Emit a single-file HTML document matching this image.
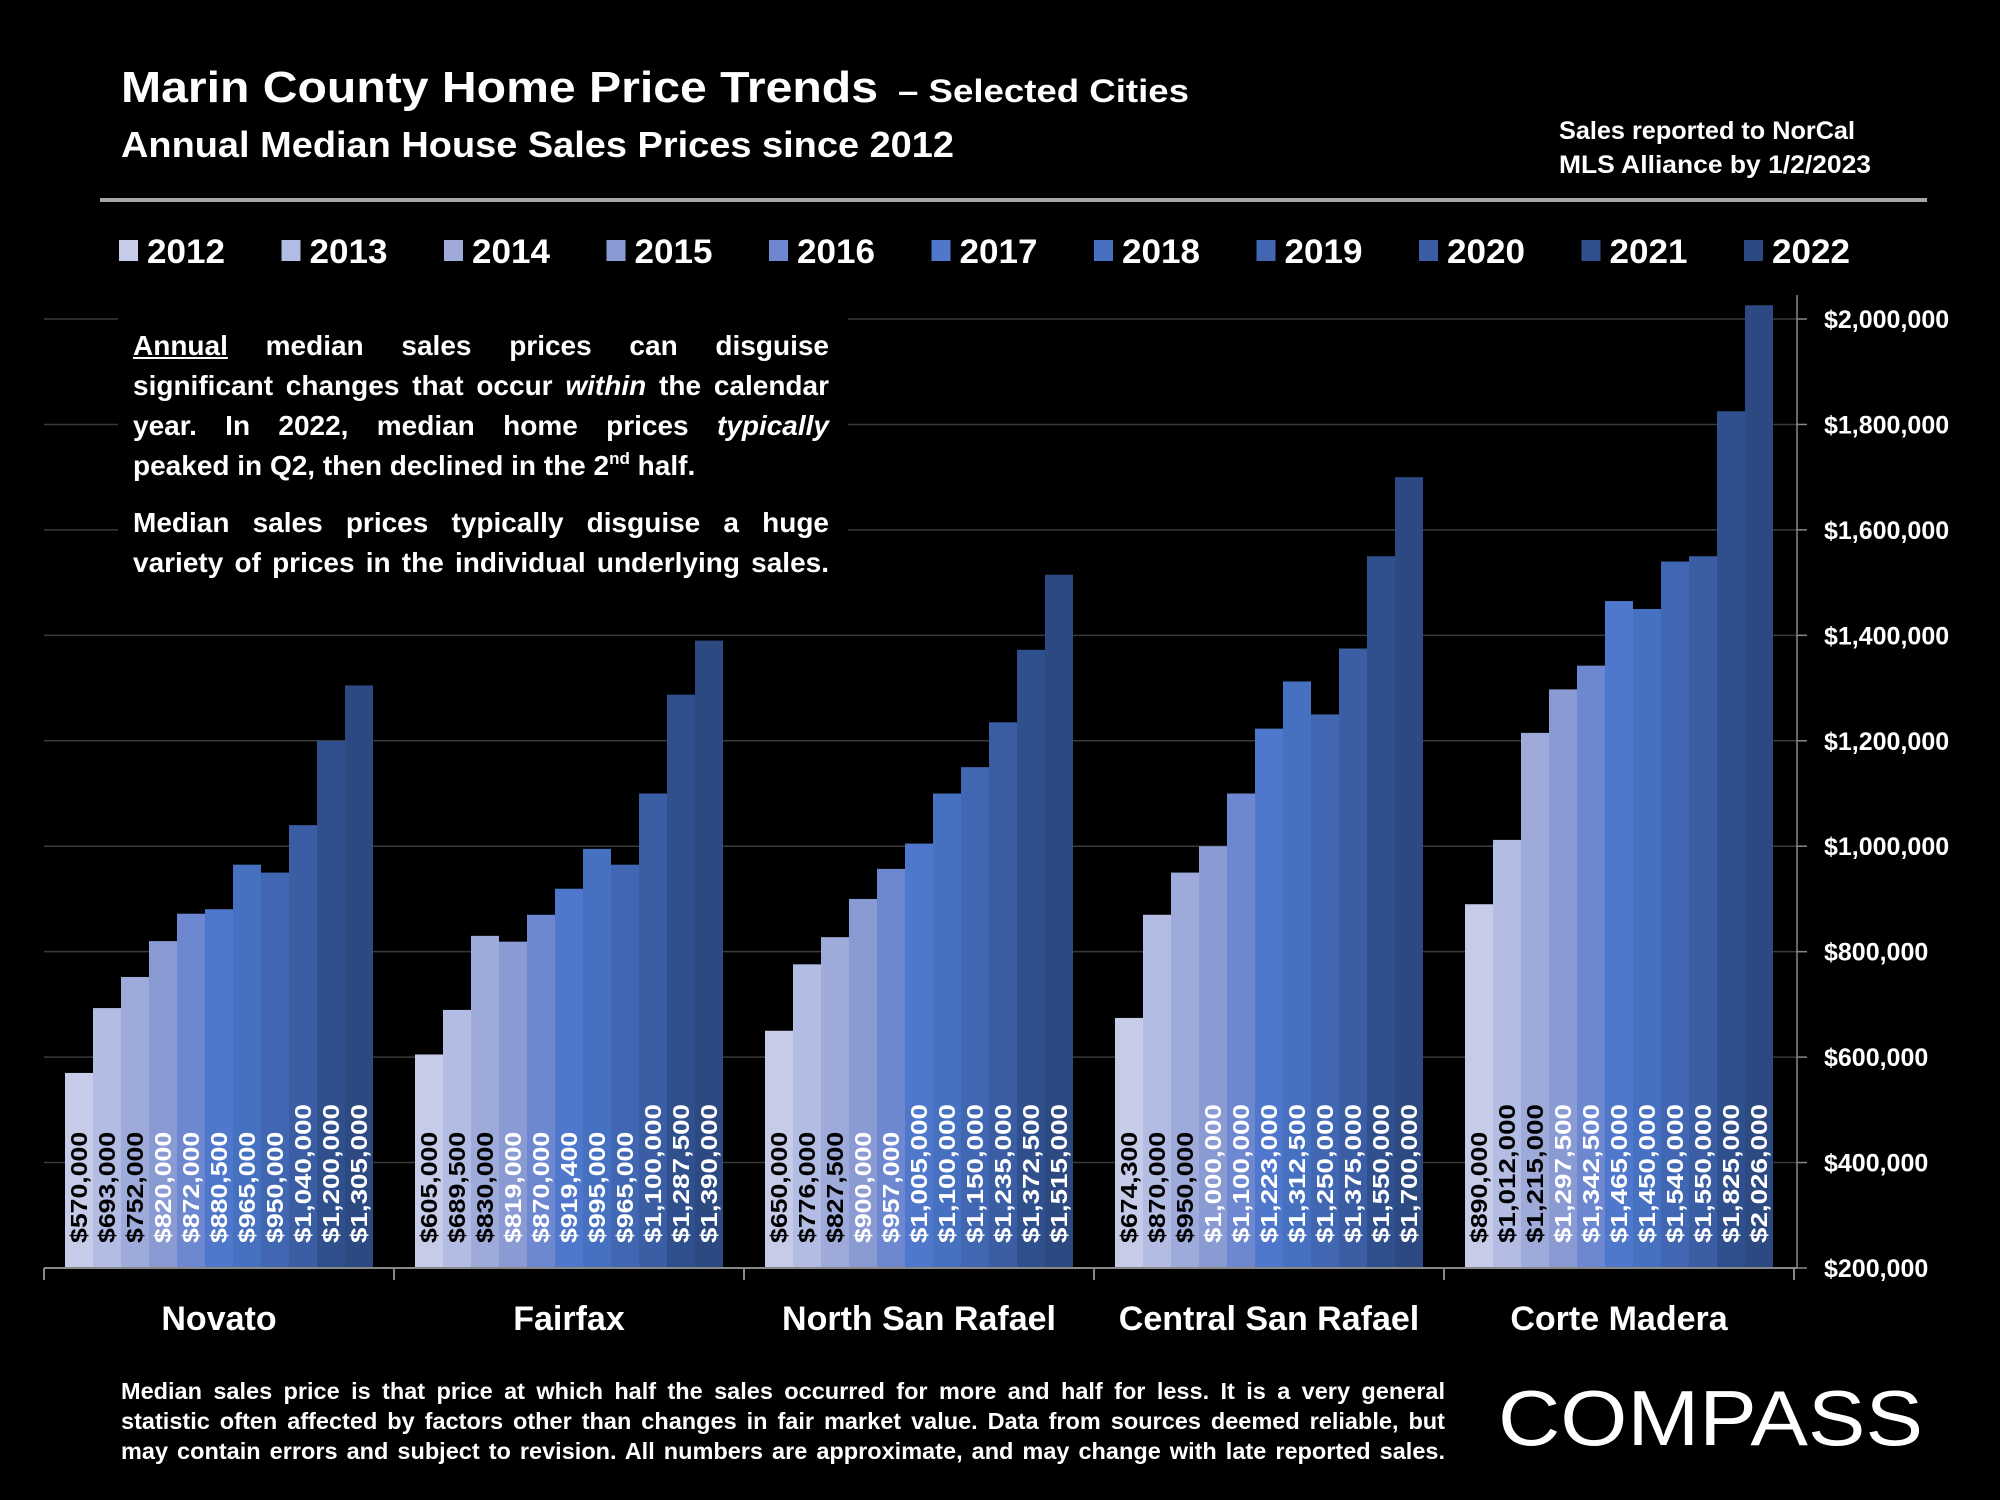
<!DOCTYPE html>
<html><head><meta charset="utf-8">
<style>
html,body{margin:0;padding:0;background:#000;}
#wrap{position:relative;width:2000px;height:1500px;background:#000;overflow:hidden;font-family:"Liberation Sans",sans-serif;color:#fff;font-weight:bold;}
.jl{position:absolute;text-align:justify;text-align-last:justify;white-space:nowrap;}
.nl{position:absolute;white-space:nowrap;}
sup{line-height:0;font-size:17px;vertical-align:0;position:relative;top:-11px;}
</style></head>
<body>
<div id="wrap">
<svg id="chart" width="2000" height="1500" style="position:absolute;left:0;top:0">
  <text x="121" y="102" font-size="44" fill="#fff" font-weight="bold" textLength="757" lengthAdjust="spacingAndGlyphs">Marin County Home Price Trends</text>
  <text x="898" y="102" font-size="32" fill="#fff" font-weight="bold" textLength="291" lengthAdjust="spacingAndGlyphs">– Selected Cities</text>
  <text x="121" y="157" font-size="36" fill="#fff" font-weight="bold" textLength="833" lengthAdjust="spacingAndGlyphs">Annual Median House Sales Prices since 2012</text>
  <text x="1559" y="139" font-size="25" fill="#fff" font-weight="bold" textLength="296" lengthAdjust="spacingAndGlyphs">Sales reported to NorCal</text>
  <text x="1559" y="173" font-size="25" fill="#fff" font-weight="bold" textLength="312" lengthAdjust="spacingAndGlyphs">MLS Alliance by 1/2/2023</text>
  <rect x="100" y="198" width="1827" height="4" fill="#a6a6a6"/>
  <g id="grid"></g>
  <g id="bars"></g>
  <g id="axes"></g>
  <g id="legend"></g>
  <text x="1498" y="1445" font-size="78" fill="#fff" font-weight="normal" textLength="425" lengthAdjust="spacingAndGlyphs">COMPASS</text>
</svg>
<div style="position:absolute;left:118px;top:318px;width:730px;height:282px;background:#000">
  <div style="font-size:28px;line-height:40px;">
    <div class="jl" style="left:15px;top:8px;width:696px"><u>Annual</u> median sales prices can disguise</div>
    <div class="jl" style="left:15px;top:48px;width:696px">significant changes that occur <i>within</i> the calendar</div>
    <div class="jl" style="left:15px;top:88px;width:696px">year. In 2022, median home prices <i>typically</i></div>
    <div class="nl" style="left:15px;top:128px">peaked in Q2, then declined in the 2<sup>nd</sup> half.</div>
    <div class="jl" style="left:15px;top:185px;width:696px">Median sales prices typically disguise a huge</div>
    <div class="jl" style="left:15px;top:225px;width:696px">variety of prices in the individual underlying sales.</div>
  </div>
</div>
<div style="font-size:23.5px;line-height:30px;">
  <div class="jl" style="left:121px;top:1376px;width:1324px">Median sales price is that price at which half the sales occurred for more and half for less. It is a very general</div>
  <div class="jl" style="left:121px;top:1406px;width:1324px">statistic often affected by factors other than changes in fair market value. Data from sources deemed reliable, but</div>
  <div class="jl" style="left:121px;top:1436px;width:1324px">may contain errors and subject to revision. All numbers are approximate, and may change with late reported sales.</div>
</div>
</div>
<script>
const cities = ["Novato","Fairfax","North San Rafael","Central San Rafael","Corte Madera"];
const years = ["2012","2013","2014","2015","2016","2017","2018","2019","2020","2021","2022"];
const novato = [570000,693000,752000,820000,872000,880500,965000,950000,1040000,1200000,1305000];
const fairfax = [605000,689500,830000,819000,870000,919400,995000,965000,1100000,1287500,1390000];
const northSanRafael = [650000,776000,827500,900000,957000,1005000,1100000,1150000,1235000,1372500,1515000];
const centralSanRafael = [674300,870000,950000,1000000,1100000,1223000,1312500,1250000,1375000,1550000,1700000];
const corteMadera = [890000,1012000,1215000,1297500,1342500,1465000,1450000,1540000,1550000,1825000,2026000];
const yTicks = [200000,400000,600000,800000,1000000,1200000,1400000,1600000,1800000,2000000];
const colors = ["#c6cbe7","#b3bce3","#9eabda","#8a9bd4","#6d88d1","#4f77cb","#4670c0","#4167b3","#3a5da3","#30508d","#2c4982"];
const series = [novato,fairfax,northSanRafael,centralSanRafael,corteMadera];

const NS="http://www.w3.org/2000/svg";
const x0=44, groupW=350, barW=28, pad=21, yBase=1268;
function y(v){ return yBase - (v-200000)*(1268-319)/1800000; }
function bx(g,i){ return x0+g*groupW+pad+i*barW; }
function mk(tag,attrs,parent){ const e=document.createElementNS(NS,tag); for(const k in attrs) e.setAttribute(k,attrs[k]); parent.appendChild(e); return e; }
function fmt(v){ return "$"+v.toLocaleString("en-US"); }

const grid=document.getElementById("grid"), bars=document.getElementById("bars"), axes=document.getElementById("axes"), legend=document.getElementById("legend");
yTicks.forEach(t=>{
  if(t>200000){
    const l=mk("line",{x1:x0,x2:1797,y1:y(t),y2:y(t),stroke:"#3a3a3a","stroke-width":1.5},grid);
    
    
  }
  const tk=mk("line",{x1:1797,x2:1807,y1:y(t),y2:y(t),stroke:"#888","stroke-width":1.5},axes);
  
  
  const tx=mk("text",{x:1824,y:y(t)+9,fill:"#fff","font-size":25,"font-weight":"bold"},axes);
  tx.textContent=fmt(t);
  
  
});
const ya=mk("line",{x1:1797,x2:1797,y1:295,y2:yBase,stroke:"#888","stroke-width":1.5},axes);


const xa=mk("line",{x1:x0,x2:1797,y1:yBase,y2:yBase,stroke:"#888","stroke-width":2},axes);


for(let g=0;g<=cities.length;g++){
  const t=mk("line",{x1:x0+g*groupW,x2:x0+g*groupW,y1:yBase,y2:yBase+12,stroke:"#888","stroke-width":2},axes);
  
  
}
cities.forEach((c,g)=>{
  const t=mk("text",{x:x0+g*groupW+groupW/2,y:1330,fill:"#fff","font-size":34,"font-weight":"bold","text-anchor":"middle"},axes);
  t.textContent=c;
  
  
  series[g].forEach((v,i)=>{
    const r=mk("rect",{x:bx(g,i),y:y(v),width:barW,height:yBase-y(v),fill:colors[i]},bars);
    
    
    const s=fmt(v);
    const cx=bx(g,i)+barW/2+8, cy=1243;
    const lt=mk("text",{x:cx,y:cy,fill:i<3?"#000":"#fff","font-size":23,"font-weight":"bold",transform:`rotate(-90 ${cx} ${cy})`,textLength:s.length*13.9,lengthAdjust:"spacingAndGlyphs"},bars);
    lt.textContent=s;
    
    
  });
});
years.forEach((yr,i)=>{
  const lx=119+i*162.5;
  const sq=mk("rect",{x:lx,y:240,width:19,height:21,fill:colors[i]},legend);
  
  
  const t=mk("text",{x:lx+28,y:263,fill:"#fff","font-size":34,"font-weight":"bold",textLength:78,lengthAdjust:"spacingAndGlyphs"},legend);
  t.textContent=yr;
  
  
});
</script>
</body></html>
